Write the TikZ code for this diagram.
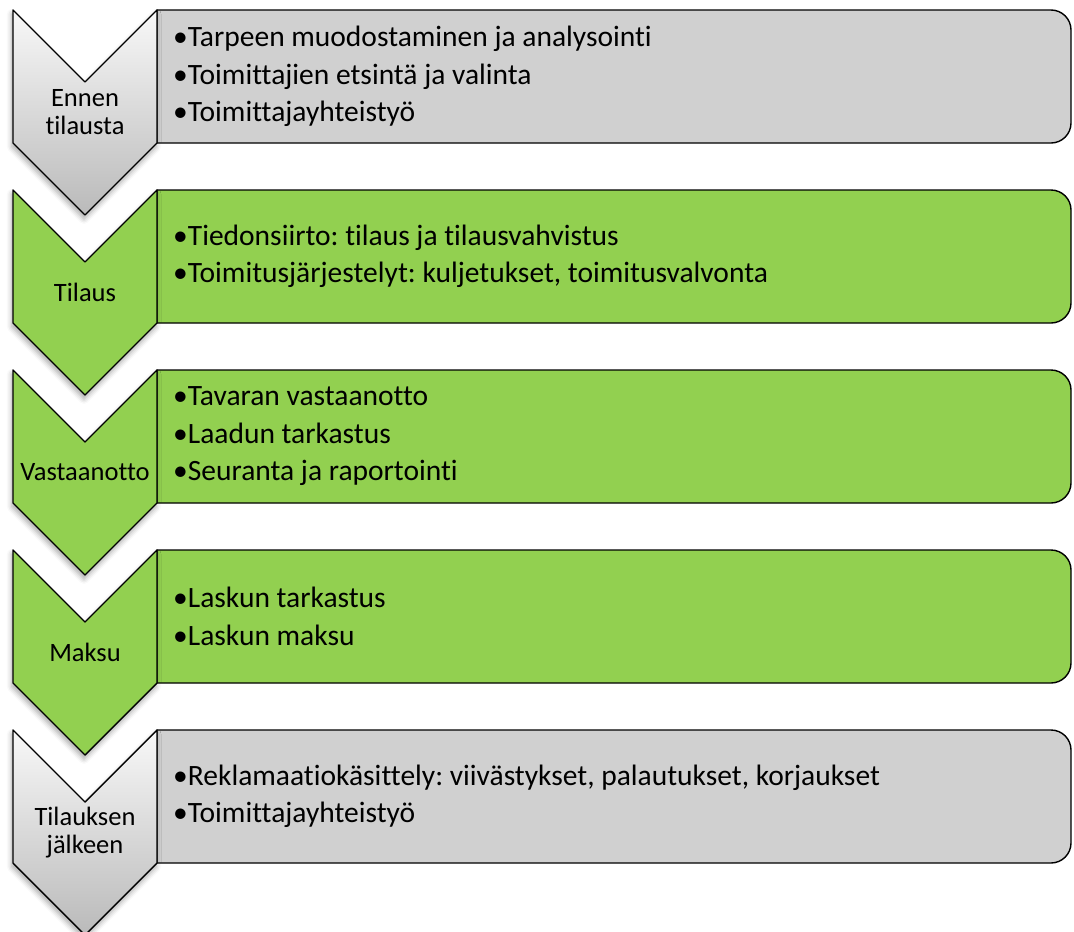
\documentclass[tikz,border=0pt]{standalone}
\usepackage{fontspec}
\setmainfont{Carlito}[Ligatures=NoCommon]
\usetikzlibrary{shadows.blur}
\frenchspacing

\definecolor{leafgreen}{RGB}{146,208,80}
\definecolor{panelgrey}{RGB}{208,208,208}
\definecolor{shadetop}{RGB}{248,248,248}
\definecolor{shadebottom}{RGB}{186,186,186}

\tikzset{
  outline/.style={draw=black, line width=1.4pt, line join=round},
  chevshadow/.style={blur shadow={shadow xshift=-1pt, shadow yshift=-4pt,
      shadow blur radius=5pt, shadow opacity=35}},
  greychev/.style={outline, chevshadow, top color=shadetop, bottom color=shadebottom},
  greenchev/.style={outline, chevshadow, fill=leafgreen},
  greypanel/.style={outline, fill=panelgrey},
  greenpanel/.style={outline, fill=leafgreen},
  stagelabel/.style={inner sep=0pt, align=center, font=\fontsize{26.5}{28}\selectfont},
  itemlist/.style={inner sep=0pt, anchor=west, align=left, font=\fontsize{29.5}{37.5}\selectfont},
}

% one step: chevron on the left, panel with the list on the right
% #1 top edge, #2 chevron style, #3 panel style, #4 name, #5 label, #6 items
\newcommand\flowstep[6]{%
  \path[#3] (157,#1+133) -- (157,#1) [rounded corners=20pt] -- (1071,#1)
     -- (1071,#1+133) [sharp corners] -- cycle;
  \path[#2] (13,#1) -- (85,#1+72) -- (157,#1) -- (157,#1+133)
     -- (85,#1+205) -- (13,#1+133) -- cycle;
  \node[stagelabel] (#4-label) at (85,#1+102.5) {#5};
  \node[itemlist] (#4-items) at (173,#1+66.5) {#6};
}

\begin{document}
\begin{tikzpicture}[x=1pt,y=-1pt]
\useasboundingbox (0,0) rectangle (1074,932);

\flowstep{10}{greychev}{greypanel}{before}{Ennen\\tilausta}
  {•Tarpeen muodostaminen ja analysointi\\•Toimittajien etsintä ja valinta\\•Toimittajayhteistyö}
\flowstep{190}{greenchev}{greenpanel}{order}{Tilaus}
  {•Tiedonsiirto: tilaus ja tilausvahvistus\\•Toimitusjärjestelyt: kuljetukset, toimitusvalvonta}
\flowstep{370}{greenchev}{greenpanel}{receipt}{Vastaanotto}
  {•Tavaran vastaanotto\\•Laadun tarkastus\\•Seuranta ja raportointi}
\flowstep{550}{greenchev}{greenpanel}{payment}{Maksu}
  {•Laskun tarkastus\\•Laskun maksu}
\flowstep{730}{greychev}{greypanel}{after}{Tilauksen\\jälkeen}
  {•Reklamaatiokäsittely: viivästykset, palautukset, korjaukset\\•Toimittajayhteistyö}
\end{tikzpicture}
\end{document}
